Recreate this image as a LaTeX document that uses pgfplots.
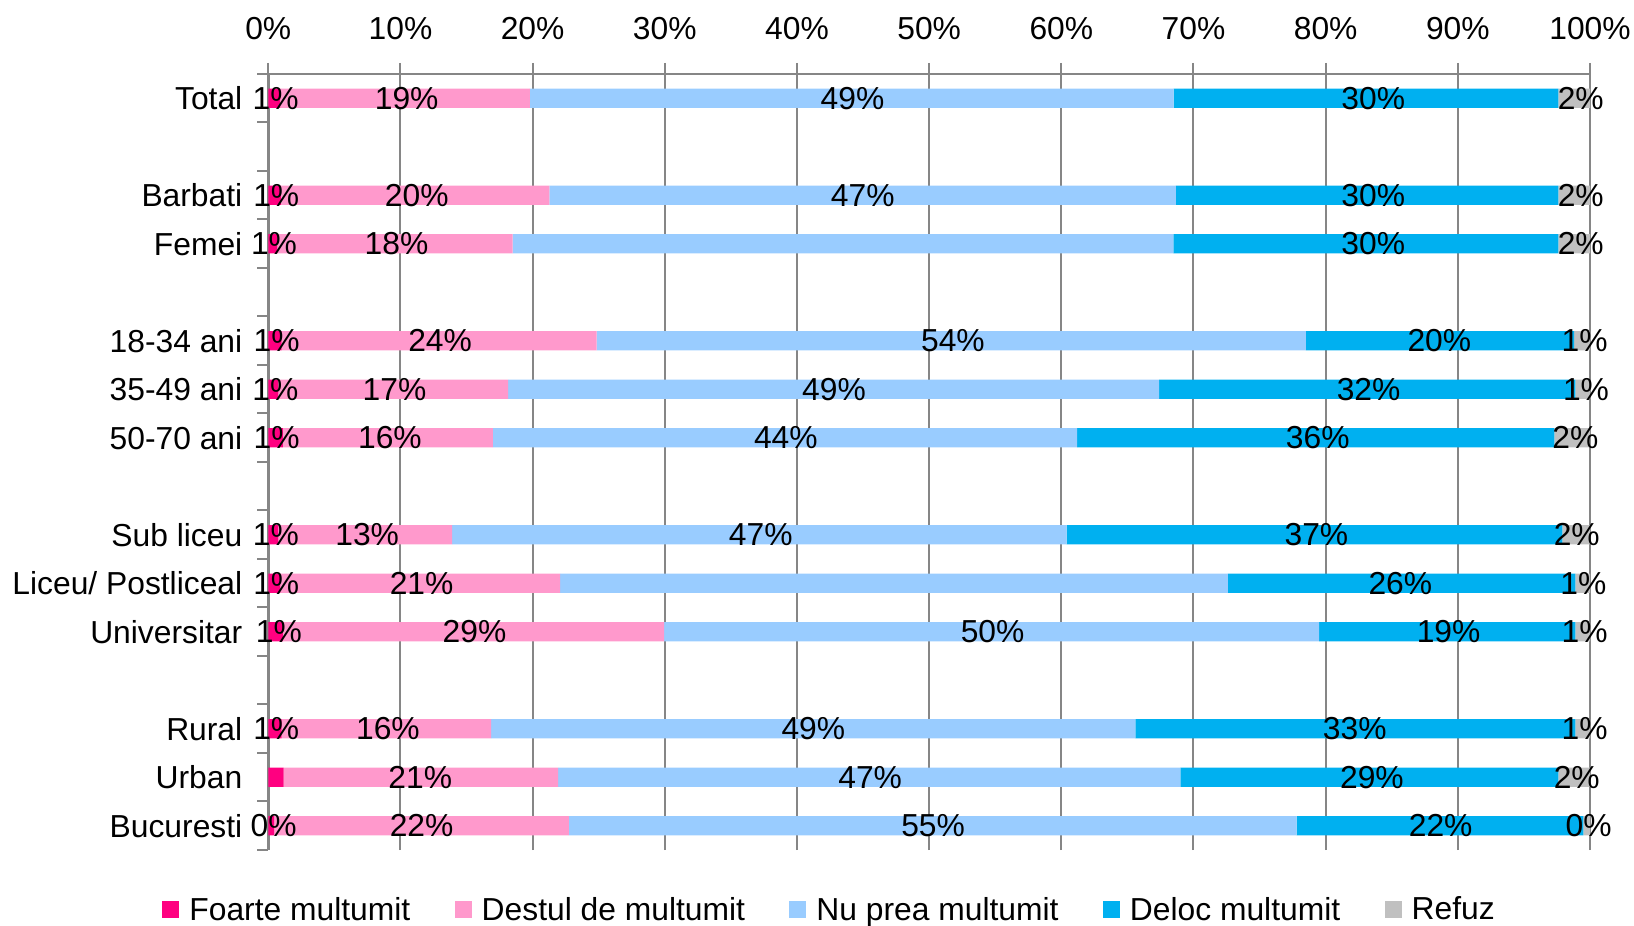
\documentclass[border=0pt]{standalone}
\usepackage{pgfplots}
\pgfplotsset{compat=1.18}
\usepackage{fontspec}
\setmainfont{Liberation Sans}
\definecolor{cFoarte}{HTML}{FF0080}
\definecolor{cDestul}{HTML}{FF99CC}
\definecolor{cNuprea}{HTML}{99CCFF}
\definecolor{cDeloc}{HTML}{00B0F0}
\definecolor{cRefuz}{HTML}{C0C0C0}
\definecolor{cGrid}{HTML}{868686}
\newcommand{\fs}{\fontsize{15.9bp}{18bp}\selectfont}
\begin{document}
\begin{tikzpicture}
\pgfplotsset{
  common/.style={
    scale only axis, width=660.85bp, height=388bp,
    xmin=0, xmax=100, ymin=-0.5, ymax=15.5,
  },
  seg/.style={draw=none, fill=#1,
    legend image code/.code={\fill[#1] (0bp,-4.25bp) rectangle (8.5bp,4.25bp);}},
}
\begin{axis}[common, name=ax,
  xbar stacked, bar width=9.7bp,
  axis x line=top, axis y line=left,
  axis line style={-, draw=cGrid, line width=1.3bp},
  xtick={0,10,...,100},
  xticklabels={0\%,10\%,20\%,30\%,40\%,50\%,60\%,70\%,80\%,90\%,100\%},
  xticklabel style={font=\fs, yshift=8.3bp},
  xmajorgrids, grid style={cGrid, line width=1bp},
  tick align=outside, major tick length=5.5bp,
  x tick style={cGrid, line width=1bp},
  ytick={-0.5,0.5,...,15.5}, yticklabels={},
  y tick style={cGrid, line width=1bp},
  extra y ticks={0,1,2,4,5,6,8,9,10,12,13,15},
  extra y tick labels={Bucuresti,Urban,Rural,Universitar,Liceu/ Postliceal,Sub liceu,50-70 ani,35-49 ani,18-34 ani,Femei,Barbati,Total},
  extra y tick style={major tick length=0pt, yticklabel style={font=\fs, xshift=-9.5bp}},
  legend columns=-1,
  legend style={at={(0.4239,-0.0773)}, anchor=center, draw=none, fill=none,
    font=\fs, nodes={inner sep=0pt},
    /tikz/every odd column/.append style={column sep=5bp},
    /tikz/every even column/.append style={column sep=22.2bp}},
]
\addplot[seg=cFoarte] coordinates {(0.9,15) (0.96,13) (0.69,12) (1.0,10) (0.76,9) (1.1,8) (0.76,6) (0.9,5) (1.1,4) (1.0,2) (1.16,1) (0.45,0)};
\addlegendentry{Foarte multumit}
\addplot[seg=cDestul] coordinates {(18.9,15) (20.31,13) (17.79,12) (23.85,10) (17.38,9) (15.9,8) (13.14,6) (21.18,5) (28.85,4) (15.86,2) (20.77,1) (22.29,0)};
\addlegendentry{Destul de multumit}
\addplot[seg=cNuprea] coordinates {(48.7,15) (47.39,13) (50.0,12) (53.65,10) (49.26,9) (44.2,8) (46.5,6) (50.52,5) (49.55,4) (48.74,2) (47.07,1) (55.06,0)};
\addlegendentry{Nu prea multumit}
\addplot[seg=cDeloc] coordinates {(29.1,15) (28.94,13) (29.12,12) (20.3,10) (31.5,9) (36.1,8) (37.5,6) (26.3,5) (19.4,4) (33.3,2) (28.6,1) (21.7,0)};
\addlegendentry{Deloc multumit}
\addplot[seg=cRefuz] coordinates {(2.4,15) (2.4,13) (2.4,12) (1.2,10) (1.1,9) (2.7,8) (2.1,6) (1.1,5) (1.1,4) (1.1,2) (2.4,1) (0.5,0)};
\addlegendentry{Refuz}
\end{axis}
\begin{axis}[common, hide axis, clip=false]
\addplot[only marks, mark=none, nodes near coords, point meta=explicit symbolic,
  nodes near coords style={anchor=center, font=\fs, inner sep=0pt, text=black}]
coordinates {
 (0.56,15) [1\%] (10.47,15) [19\%] (44.2,15) [49\%] (83.6,15) [30\%] (99.3,15) [2\%]
 (0.6,13) [1\%] (11.23,13) [20\%] (44.98,13) [47\%] (83.6,13) [30\%] (99.3,13) [2\%]
 (0.43,12) [1\%] (9.7,12) [18\%] (83.6,12) [30\%] (99.3,12) [2\%]
 (0.63,10) [1\%] (13.0,10) [24\%] (51.8,10) [54\%] (88.6,10) [20\%] (99.6,10) [1\%]
 (0.53,9) [1\%] (9.55,9) [17\%] (42.8,9) [49\%] (83.25,9) [32\%] (99.7,9) [1\%]
 (0.63,8) [1\%] (9.2,8) [16\%] (39.16,8) [44\%] (79.4,8) [36\%] (98.9,8) [2\%]
 (0.57,6) [1\%] (7.48,6) [13\%] (37.26,6) [47\%] (79.3,6) [37\%] (99.0,6) [2\%]
 (0.6,5) [1\%] (11.6,5) [21\%] (85.65,5) [26\%] (99.5,5) [1\%]
 (0.8,4) [1\%] (15.6,4) [29\%] (54.8,4) [50\%] (89.3,4) [19\%] (99.6,4) [1\%]
 (0.6,2) [1\%] (9.05,2) [16\%] (41.24,2) [49\%] (82.2,2) [33\%] (99.6,2) [1\%]
 (11.5,1) [21\%] (45.54,1) [47\%] (83.5,1) [29\%] (99.0,1) [2\%]
 (0.4,0) [0\%] (11.6,0) [22\%] (50.3,0) [55\%] (88.7,0) [22\%] (99.9,0) [0\%]
};
\end{axis}
\pgfresetboundingbox
\useasboundingbox ([shift={(-134.15bp,-38bp)}]ax.south west) rectangle ([shift={(22bp,37bp)}]ax.north east);
\end{tikzpicture}
\end{document}
